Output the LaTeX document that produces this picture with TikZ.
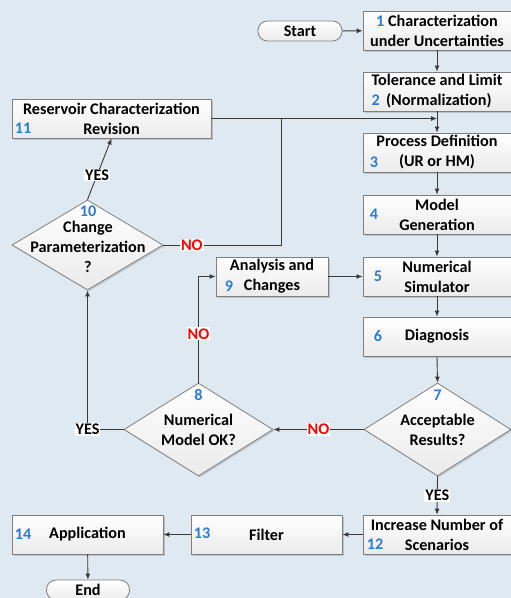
\documentclass[tikz,border=0pt]{standalone}
\usepackage{fontspec}
\setmainfont{Carlito}
\usetikzlibrary{shapes.geometric,arrows.meta,shadows,calc}
\definecolor{bg}{HTML}{DFE9F1}
\definecolor{numblue}{HTML}{2E7BCF}
\definecolor{edgegray}{HTML}{7F7F7F}
\definecolor{lncol}{HTML}{3A3A3A}
\definecolor{nored}{HTML}{FF0000}
\begin{document}
\begin{tikzpicture}[x=1pt,y=-1pt,
  every node/.style={font=\fontsize{16.2}{20}\selectfont\bfseries, text=black},
  box/.style={draw=edgegray, line width=0.8pt, top color=white, bottom color=gray!16,
    drop shadow={shadow xshift=1.5pt,shadow yshift=-1.5pt,opacity=0.35},
    minimum height=39pt, inner sep=0pt, align=center},
  dia/.style={diamond, draw=edgegray, line width=0.8pt, top color=white, bottom color=gray!16,
    drop shadow={shadow xshift=1.5pt,shadow yshift=-1.5pt,opacity=0.3}, inner sep=0pt},
  term/.style={draw=edgegray, line width=0.8pt, rounded corners=9.5pt, top color=white, bottom color=gray!16,
    minimum height=20pt, inner sep=0pt},
  num/.style={text=numblue, inner sep=0pt},
  txt/.style={align=center, inner sep=0pt},
  lab/.style={fill=white, inner sep=1pt},
  arr/.style={draw=lncol, line width=0.9pt, -{Latex[length=6pt,width=5pt]}},
  lnk/.style={draw=lncol, line width=0.9pt}
]
\useasboundingbox (0,0) rectangle (511,598);
\fill[bg] (0,0) rectangle (511,598);

% terminals
\node[term, minimum width=84pt] (start) at (300,31) {Start};
\node[term, minimum width=83pt] (end) at (88,590) {End};

% right column boxes
\node[box, minimum width=148pt] (b1) at (437,30.5) {{\color{numblue}1} Characterization\\under Uncertainties};
\node[box, minimum width=148pt, align=left] (b2) at (437,91.5) {Tolerance and Limit\\{\color{numblue}2}\ \,(Normalization)};
\node[box, minimum width=148pt] (b3) at (437,152.5) {Process Definition\\(UR or HM)};
\node[num] (n3) at (374,162) {3};
\node[box, minimum width=148pt] (b4) at (437,214.5) {Model\\Generation};
\node[num] (n4) at (374,214) {4};
\node[box, minimum width=148pt] (b5) at (437,276.5) {Numerical\\Simulator};
\node[num] (n5) at (378,276) {5};
\node[box, minimum width=148pt] (b6) at (437,336.5) {Diagnosis};
\node[num] (n6) at (378,336) {6};
\node[box, minimum width=112pt] (b9) at (272,276.5) {Analysis and\\Changes};
\node[num] (n9) at (229,286) {9};
\node[box, minimum width=199pt] (b11) at (111.5,118.5) {Reservoir Characterization\\Revision};
\node[num] (n11) at (23,128) {11};

% bottom row
\node[box, minimum width=148pt] (b12) at (437,534.5) {Increase Number of\\Scenarios};
\node[num] (n12) at (375,544) {12};
\node[box, minimum width=151pt] (b13) at (266.5,534.5) {Filter};
\node[num] (n13) at (202,533) {13};
\node[box, minimum width=151pt] (b14) at (87.5,534.5) {Application};
\node[num] (n14) at (23,534) {14};

% diamonds
\node[dia, minimum width=151pt, minimum height=90pt] (d10) at (87.5,245) {};
\node[num] (n10) at (88,211) {10};
\node[txt] (t10) at (88,246.5) {Change\\Parameterization\\?};
\node[dia, minimum width=149pt, minimum height=93pt] (d8) at (198.5,429.5) {};
\node[num] (n8) at (198.5,395) {8};
\node[txt] (t8) at (198.5,429.5) {Numerical\\Model OK?};
\node[dia, minimum width=147pt, minimum height=93pt] (d7) at (437.5,429.5) {};
\node[num] (n7) at (437.5,395) {7};
\node[txt] (t7) at (437.5,429.5) {Acceptable\\Results?};

% connectors
\draw[arr] (start) -- (b1);
\draw[arr] (b1) -- (b2);
\draw[arr] (b2) -- (b3);
\draw[arr] (b3) -- (b4);
\draw[arr] (b4) -- (b5);
\draw[arr] (b5) -- (b6);
\draw[arr] (b6.south) -- (d7.north);
\draw[arr] (d7.south) -- node[lab]{YES} (b12.north);
\draw[arr] (b12) -- (b13);
\draw[arr] (b13) -- (b14);
\draw[arr] (b14) -- (end);
\draw[arr] (d7.west) -- node[lab, text=nored]{NO} (d8.east);
\draw[arr] (d8.west) -| node[lab]{YES} (d10.south);
\draw[arr] (d8.north) |- node[lab, text=nored, pos=0.23]{NO} (b9.west);
\draw[arr] (b9) -- (b5);
\draw[arr] (d10.north) -- node[lab, pos=0.4]{YES} (b11.south);
\coordinate (j) at ($(b11.east)+(70.5,0)$);
\draw[arr] (b11.east) -- (b11.east -| b2.south);
\draw[lnk] (d10.east) -| node[lab, text=nored, pos=0.12]{NO} (j);
\end{tikzpicture}
\end{document}
